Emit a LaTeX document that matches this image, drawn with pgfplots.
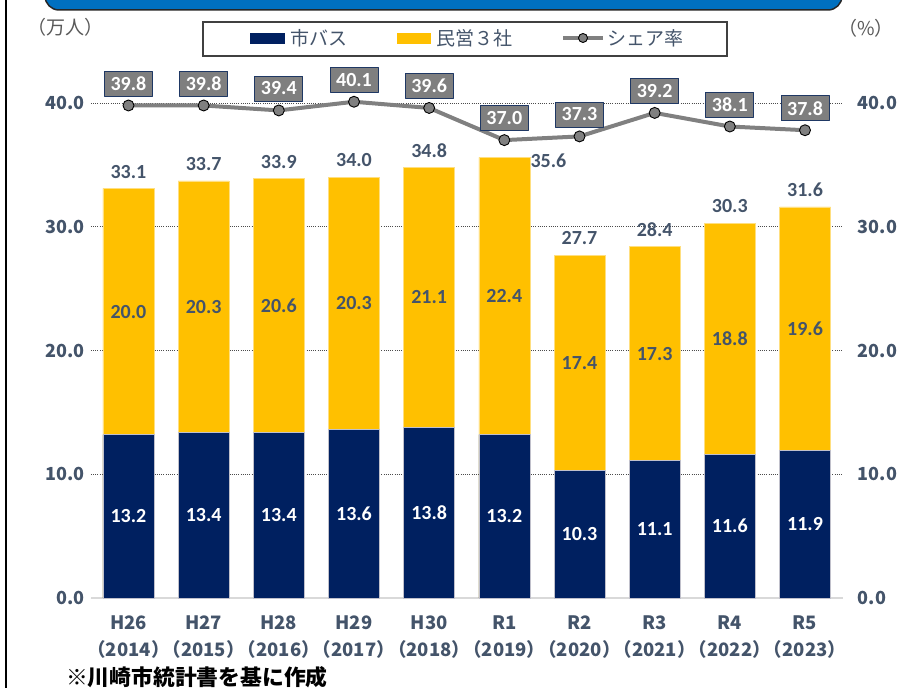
\documentclass[border=0pt]{standalone}
\usepackage{fontspec}
\setmainfont{Carlito}
\newfontfamily\jp{Noto Sans CJK JP}
\usepackage{pgfplots}
\usepackage{pgfplotstable}
\pgfplotsset{compat=1.18}
\definecolor{navy}{HTML}{002060}
\definecolor{gold}{HTML}{FFC000}
\definecolor{slate}{HTML}{44546A}
\definecolor{linegray}{HTML}{808080}
\definecolor{boxgray}{HTML}{7F7F7F}
\definecolor{boxedge}{HTML}{1F3864}
\definecolor{banner}{HTML}{0070C0}
\definecolor{unitgray}{HTML}{595959}
\newcommand\lab{\fontsize{20}{24}\selectfont\bfseries}
\newcommand\ytk{\jp\bfseries\fontsize{18}{22}\selectfont}
\newcommand\xtk{\jp\bfseries\fontsize{18.5}{27}\selectfont}

\pgfplotstableread{
x city priv total share
0 13.2 20.0 33.1 39.8
1 13.4 20.3 33.7 39.8
2 13.4 20.6 33.9 39.4
3 13.6 20.3 34.0 40.1
4 13.8 21.1 34.8 39.6
5 13.2 22.4 35.6 37.0
6 10.3 17.4 27.7 37.3
7 11.1 17.3 28.4 39.2
8 11.6 18.8 30.3 38.1
9 11.9 19.6 31.6 37.8
}\data

\begin{document}
\begin{tikzpicture}
\begin{axis}[
  at={(0,0)}, anchor=south west,
  scale only axis, width=751.7pt, height=556.875pt,
  xmin=-0.5, xmax=9.5, ymin=0, ymax=45,
  axis x line*=bottom, axis y line*=left,
  x axis line style={-, draw=black!15, line width=2pt},
  y axis line style={draw=none},
  major tick length=0pt,
  xtick={0,...,9},
  xticklabels={{H26\\（2014）},{H27\\（2015）},{H28\\（2016）},{H29\\（2017）},{H30\\（2018）},{R1\\（2019）},{R2\\（2020）},{R3\\（2021）},{R4\\（2022）},{R5\\（2023）}},
  xticklabel style={font=\xtk, text=slate, align=center, anchor=north, inner sep=0pt, yshift=-18pt},
  ytick={0,10,20,30,40},
  ymajorgrids,
  grid style={dash pattern=on 1pt off 1.2pt, line width=0.8pt, color=black!70},
  /pgf/number format/.cd, fixed, fixed zerofill, precision=1, assume math mode=true,
  /pgfplots/.cd,
  yticklabel style={font=\ytk, text=slate, anchor=east, inner sep=0pt, xshift=-6pt},
  clip=false,
]
% bars
\addplot[ybar, bar width=51pt, bar shift=0pt, fill=gold, draw=gold!50!white, line width=0.5pt] table[x=x,y=total]{\data};
\addplot[ybar, bar width=51pt, bar shift=0pt, fill=navy, draw=blue!10!gray!45, line width=0.6pt] table[x=x,y=city]{\data};
% segment labels
\addplot[draw=none, mark=none, nodes near coords, point meta=explicit symbolic,
  every node near coord/.append style={anchor=center, text=white, font=\lab, inner sep=0pt}]
  table[x=x, y expr={\thisrow{city}/2}, meta=city]{\data};
\addplot[draw=none, mark=none, nodes near coords, point meta=explicit symbolic,
  every node near coord/.append style={anchor=center, text=slate, font=\lab, inner sep=0pt}]
  table[x=x, y expr={(\thisrow{city}+\thisrow{total})/2}, meta=priv]{\data};
% totals
\addplot[draw=none, mark=none, skip coords between index={5}{6}, nodes near coords, point meta=explicit symbolic,
  every node near coord/.append style={anchor=south, yshift=10pt, text=slate, font=\lab, inner sep=0pt}]
  table[x=x, y=total, meta=total]{\data};
\addplot[draw=none, mark=none, nodes near coords, point meta=explicit symbolic,
  every node near coord/.append style={anchor=west, xshift=26pt, yshift=-3pt, text=slate, font=\lab, inner sep=0pt}]
  coordinates {(5,35.6) [35.6]};
% share line
\addplot[linegray, line width=4pt, line join=round, mark=*, mark size=5.5pt,
  mark options={fill=linegray, draw=black, line width=0.9pt},
  nodes near coords, point meta=explicit symbolic,
  every node near coord/.append style={anchor=south, yshift=9pt, fill=boxgray, draw=boxedge, line width=0.9pt, text=white, font=\lab, minimum width=48pt, minimum height=25pt, inner sep=0pt}]
  table[x=x, y=share, meta=share]{\data};
\end{axis}

\begin{axis}[
  at={(0,0)}, anchor=south west,
  scale only axis, width=751.7pt, height=556.875pt,
  xmin=-0.5, xmax=9.5, ymin=0, ymax=45,
  axis x line=none, axis y line*=right,
  y axis line style={draw=none},
  major tick length=0pt,
  ytick={0,10,20,30,40},
  /pgf/number format/.cd, fixed, fixed zerofill, precision=1, assume math mode=true,
  /pgfplots/.cd,
  yticklabel style={font=\ytk, text=slate, anchor=west, inner sep=0pt, xshift=15pt},
]
\addplot[draw=none] coordinates {(0,0)};
\end{axis}

% banner (title cut off in the reference)
\begin{scope}
\clip (-90.9pt,-90pt) rectangle (815.1pt,598pt);
\draw[fill=banner, draw=black!85, line width=1.5pt, rounded corners=14pt] (-45.9pt,588pt) rectangle (751.1pt,640pt);
\end{scope}
% left border
\draw[line width=1.5pt, black] (-84.9pt,-90pt) -- (-84.9pt,598pt);

% legend
\draw[line width=1.4pt, draw=black!75, fill=white] (112.1pt,542pt) rectangle (636.1pt,576pt);
\fill[navy] (159.1pt,554pt) rectangle (194.1pt,565pt);
\node[anchor=west, inner sep=0pt, text=slate, font=\jp\fontsize{19}{22}\selectfont] at (199.1pt,560pt) {市バス};
\fill[gold] (306.1pt,554pt) rectangle (340.1pt,565pt);
\node[anchor=west, inner sep=0pt, text=slate, font=\jp\fontsize{19}{22}\selectfont] at (345.1pt,560pt) {民営３社};
\draw[linegray, line width=3.5pt] (472.1pt,560pt) -- (512.1pt,560pt);
\draw[fill=linegray, draw=black, line width=0.9pt] (492.1pt,560pt) circle (4.5pt);
\node[anchor=west, inner sep=0pt, text=slate, font=\jp\fontsize{19}{22}\selectfont] at (516.1pt,560pt) {シェア率};

% units
\node[inner sep=0pt, text=unitgray, font=\jp\fontsize{19}{22}\selectfont] at (-24.9pt,571pt) {（万人）};
\node[inner sep=0pt, text=unitgray, font=\jp\fontsize{19}{22}\selectfont] at (775.1pt,570pt) {（\%）};

% footnote
\node[anchor=west, inner sep=0pt, text=black, font=\jp\bfseries\fontsize{21.8}{26}\selectfont] at (-24.9pt,-79pt) {※川崎市統計書を基に作成};

\pgfresetboundingbox
\path[use as bounding box] (-90.9pt,-90pt) rectangle (815.1pt,598pt);
\end{tikzpicture}
\end{document}
